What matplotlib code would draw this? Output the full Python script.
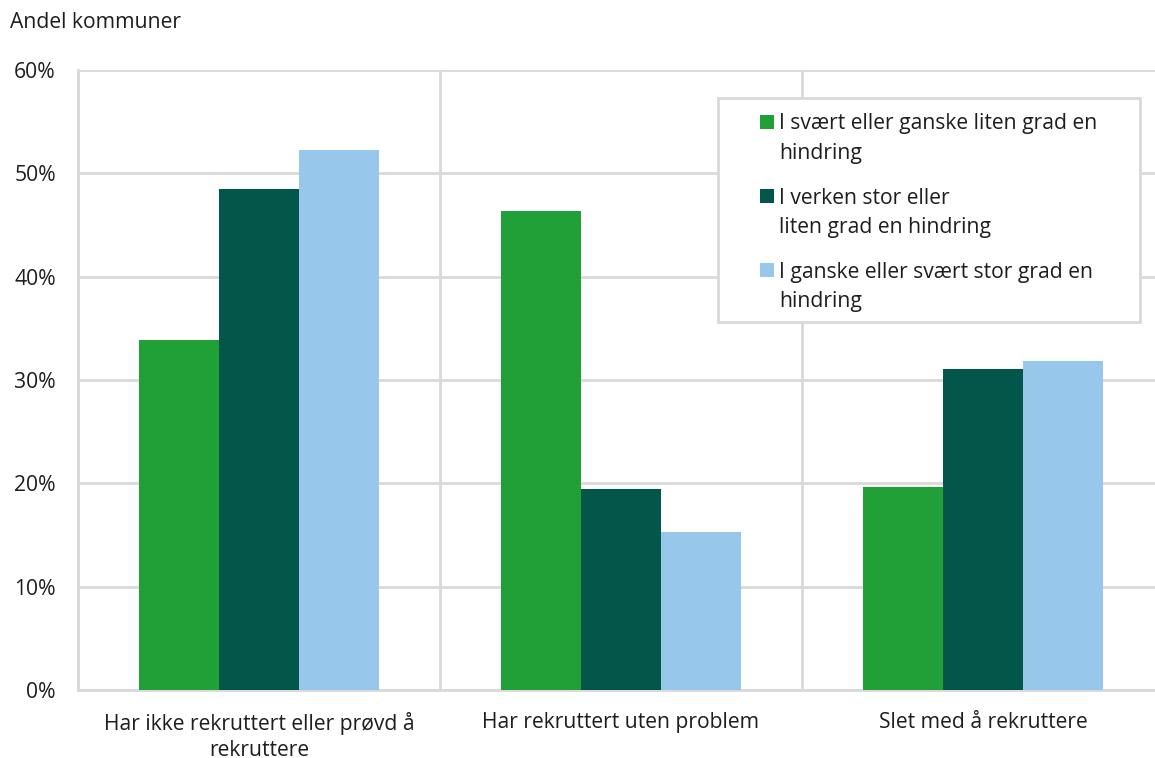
import matplotlib.pyplot as plt
from matplotlib.patches import Rectangle
import numpy as np

plt.rcParams['font.family'] = ['Open Sans', 'DejaVu Sans']

# Data (andel kommuner, prosent)
categories = ['Har ikke rekruttert eller prøvd å\nrekruttere',
              'Har rekruttert uten problem',
              'Slet med å rekruttere']
series_names = ['I svært eller ganske liten grad en\nhindring',
                'I verken stor eller\nliten grad en hindring',
                'I ganske eller svært stor grad en\nhindring']
liten_grad = [33.9, 46.4, 19.6]
verken = [48.5, 19.5, 31.1]
stor_grad = [52.3, 15.3, 31.8]
yticks = [0, 10, 20, 30, 40, 50, 60]
ytick_labels = ['0%', '10%', '20%', '30%', '40%', '50%', '60%']

colors = ['#21A038', '#03564A', '#97C8EC']
grid_color = '#D9D9D9'
text_color = '#1E1E1E'
fs = 15.2

W, H = 1155, 758
fig = plt.figure(figsize=(W / 100, H / 100), dpi=100)
ax = fig.add_axes([78 / W, 68 / H, 1086 / W, 620 / H])

x = np.arange(len(categories))
width = 0.221
for i, vals in enumerate([liten_grad, verken, stor_grad]):
    ax.bar(x + (i - 1) * width, vals, width, color=colors[i], zorder=3)

ax.set_xlim(-0.5, len(categories) - 0.5)
ax.set_ylim(0, 60)

# horizontal gridlines on major y ticks, vertical separators between categories
ax.set_yticks(yticks)
ax.set_yticklabels(ytick_labels)
ax.set_xticks(x)
ax.set_xticklabels(categories, linespacing=1.3)
ax.set_xticks(np.arange(-0.5, len(categories)), minor=True)
ax.grid(axis='y', which='major', color=grid_color, linewidth=2, zorder=0)
ax.grid(axis='x', which='minor', color=grid_color, linewidth=2, zorder=0)
ax.tick_params(axis='both', which='both', length=0, labelsize=fs, labelcolor=text_color)
ax.tick_params(axis='x', pad=16)
ax.tick_params(axis='y', pad=16)
for s in ['top', 'right']:
    ax.spines[s].set_visible(False)
for s in ['left', 'bottom']:
    ax.spines[s].set_color(grid_color)
    ax.spines[s].set_linewidth(2)

fig.text(10 / W, 1 - 28 / H, 'Andel kommuner', fontsize=fs, color=text_color,
         ha='left', va='baseline')

# legend box drawn by hand so each swatch sits on the first text line
fig.patches.append(Rectangle((718 / W, 1 - 322 / H), 422 / W, 224 / H,
                             transform=fig.transFigure, facecolor='white',
                             edgecolor=grid_color, linewidth=2, zorder=5))
first_line = [122, 196, 270]
line_pitch = 29
for name, c, yc in zip(series_names, colors, first_line):
    fig.patches.append(Rectangle((760 / W, 1 - (yc + 7) / H), 14 / W, 14 / H,
                                 transform=fig.transFigure, facecolor=c,
                                 edgecolor='none', zorder=6))
    for k, line in enumerate(name.split('\n')):
        fig.text(779 / W, 1 - (yc + 7.5 + k * line_pitch) / H, line,
                 fontsize=fs, color=text_color, ha='left', va='baseline',
                 zorder=7)

plt.savefig('out.png', dpi=100)
